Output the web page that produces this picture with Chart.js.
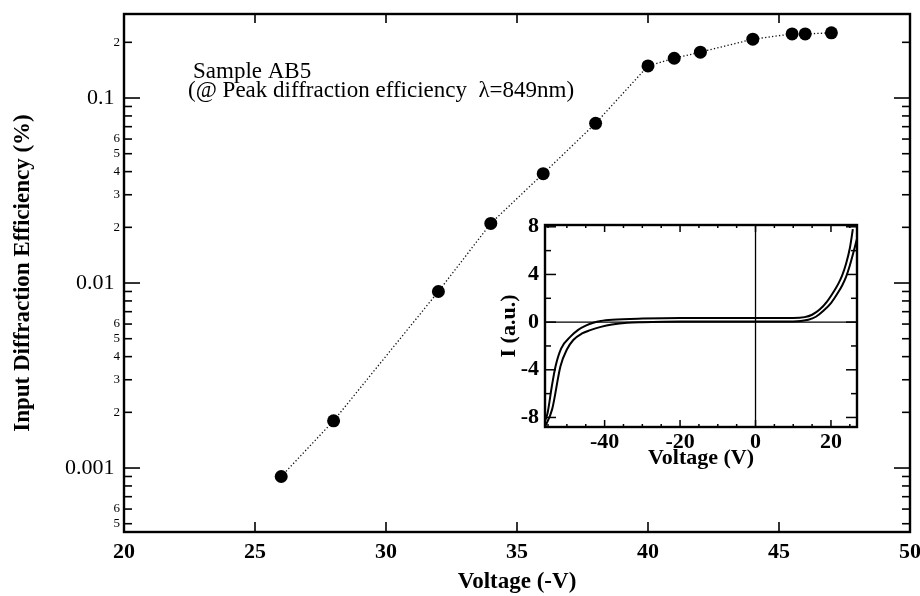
<!DOCTYPE html>
<html>
<head>
<meta charset="utf-8">
<title>Input diffraction efficiency vs voltage</title>
<script src="https://cdn.jsdelivr.net/npm/chart.js@4.4.1/dist/chart.umd.min.js"></script>
<style>
  html, body { margin: 0; padding: 0; background: #fff; }
  #wrap { position: relative; width: 920px; height: 596px; }
  #main { position: absolute; left: 0; top: 0; }
  #inset { position: absolute; left: 490px; top: 205px; }
</style>
</head>
<body>
<div id="wrap">
  <canvas id="main" width="920" height="596"></canvas>
  <canvas id="inset" width="380" height="268"></canvas>
</div>
<script>
// Main plot: input diffraction efficiency vs reverse voltage (log scale)
const effVoltage = [26, 28, 32, 34, 36, 38, 40, 41, 42, 44, 45.5, 46, 47];
const effValues = [0.0009, 0.0018, 0.009, 0.021, 0.039, 0.073, 0.149, 0.164, 0.177, 0.208, 0.222, 0.222, 0.225];
const voltageTicks = [20, 25, 30, 35, 40, 45, 50];
const effTicks = [
  0.0005, 0.0006, 0.0007, 0.0008, 0.0009,
  0.001, 0.002, 0.003, 0.004, 0.005, 0.006, 0.007, 0.008, 0.009,
  0.01, 0.02, 0.03, 0.04, 0.05, 0.06, 0.07, 0.08, 0.09,
  0.1, 0.2
];
const effTickLabels = [
  '5', '6', '', '', '',
  '0.001 ', '2', '3', '4', '5', '6', '', '', '',
  '0.01 ', '2', '3', '4', '5', '6', '', '', '',
  '0.1 ', '2'
];
const effMajor = [0.001, 0.01, 0.1];

// Inset: I-V sweep, two branches
const ivVoltageA = [-55.8, -55.1, -54, -53, -51.5, -49, -47, -45, -43, -41, -38, -30, -20, -10, 0, 10, 13, 15, 17, 19, 21, 22, 23, 24, 25, 25.8];
const ivCurrentA = [-8.3, -7.6, -5.4, -3.7, -2.2, -1.2, -0.65, -0.3, -0.05, 0.1, 0.2, 0.3, 0.35, 0.35, 0.35, 0.35, 0.42, 0.62, 1.05, 1.75, 2.7, 3.25, 3.95, 4.9, 6.2, 7.8];
const ivVoltageB = [-55.8, -53.9, -51.7, -50, -48.3, -46, -43.8, -41, -38, -34, -30, -20, -10, 0, 10, 14, 16, 18, 20, 22, 23, 24, 25, 26, 26.9];
const ivCurrentB = [-8.8, -7.3, -3.7, -2.3, -1.5, -0.95, -0.67, -0.4, -0.2, -0.05, 0.0, 0.05, 0.05, 0.05, 0.05, 0.2, 0.45, 0.95, 1.6, 2.55, 3.1, 3.8, 4.75, 5.9, 7.0];
const ivVoltageTicks = [-55, -50, -45, -40, -35, -30, -25, -20, -15, -10, -5, 0, 5, 10, 15, 20, 25];
const ivVoltageLabels = ['', '', '', '-40', '', '', '', '-20', '', '', '', '0', '', '', '', '20', ''];
const ivCurrentTicks = [-8, -6, -4, -2, 0, 2, 4, 6, 8];
const ivCurrentLabels = ['-8', '', '-4', '', '0', '', '4', '', '8'];

const sampleLabel = 'Sample AB5';
const conditionLabel = '(@ Peak diffraction efficiency  \u03bb=849nm)';

const SERIF = "'Liberation Serif', 'Times New Roman', Times, serif";
Chart.defaults.font.family = SERIF;
Chart.defaults.color = '#000';

function seg(ctx, x1, y1, x2, y2) {
  ctx.beginPath();
  ctx.moveTo(x1, y1);
  ctx.lineTo(x2, y2);
  ctx.stroke();
}

// inward ticks, box and text for the main plot
const mainFrame = {
  id: 'mainFrame',
  afterDraw(chart) {
    const { ctx, chartArea: a, scales: { x, y } } = chart;
    ctx.save();
    ctx.strokeStyle = '#000';
    ctx.lineWidth = 1.6;
    x.ticks.forEach(t => {
      const px = x.getPixelForValue(t.value);
      seg(ctx, px, a.bottom, px, a.bottom - 10);
      seg(ctx, px, a.top, px, a.top + 9);
    });
    y.ticks.forEach(t => {
      const py = y.getPixelForValue(t.value);
      const len = effMajor.includes(t.value) ? 16 : 8;
      seg(ctx, a.left, py, a.left + len, py);
      seg(ctx, a.right, py, a.right - len, py);
    });
    ctx.lineWidth = 2.4;
    ctx.strokeRect(a.left, a.top, a.right - a.left, a.bottom - a.top);

    ctx.fillStyle = '#000';
    ctx.font = '23px ' + SERIF;
    ctx.textAlign = 'left';
    ctx.textBaseline = 'alphabetic';
    ctx.fillText(sampleLabel, 193, 78);
    ctx.fillText(conditionLabel, 188, 97);
    ctx.restore();
  }
};

new Chart(document.getElementById('main'), {
  type: 'scatter',
  data: {
    datasets: [{
      data: effVoltage.map((v, i) => ({ x: v, y: effValues[i] })),
      showLine: true,
      borderColor: '#111',
      borderWidth: 1.3,
      borderDash: [1.3, 2.2],
      pointRadius: 6.5,
      pointBackgroundColor: '#000',
      pointBorderColor: '#000',
      pointBorderWidth: 0
    }]
  },
  options: {
    responsive: false,
    animation: false,
    events: [],
    layout: { padding: { top: 14, right: 10, left: 0, bottom: 0 } },
    plugins: { legend: { display: false }, tooltip: { enabled: false } },
    scales: {
      x: {
        type: 'linear',
        min: 20,
        max: 50,
        afterBuildTicks: s => { s.ticks = voltageTicks.map(v => ({ value: v })); },
        afterFit: s => { s.height = 64; s.paddingLeft = 0; s.paddingRight = 0; },
        grid: { display: false, drawTicks: false },
        border: { display: false },
        ticks: { padding: 7, maxRotation: 0, autoSkip: false, font: { size: 22, weight: 'bold' } },
        title: {
          display: true,
          text: 'Voltage (-V)',
          font: { size: 23, weight: 'bold' },
          padding: { top: 0, bottom: 0 }
        }
      },
      y: {
        type: 'logarithmic',
        min: 0.000451,
        max: 0.2845,
        afterBuildTicks: s => { s.ticks = effTicks.map(v => ({ value: v })); },
        afterFit: s => { s.width = 124; s.paddingTop = 0; s.paddingBottom = 0; },
        grid: { display: false, drawTicks: false },
        border: { display: false },
        ticks: {
          padding: 4,
          autoSkip: false,
          callback: (v, i) => effTickLabels[i],
          font: c => (c.tick && effMajor.includes(c.tick.value)) ? { size: 22 } : { size: 13 }
        },
        title: {
          display: true,
          text: 'Input Diffraction Efficiency (%)',
          font: { size: 23, weight: 'bold' },
          padding: { top: 9, bottom: 0 }
        }
      }
    }
  },
  plugins: [mainFrame]
});

// inset frame, zero lines and ticks
const insetFrame = {
  id: 'insetFrame',
  beforeDatasetsDraw(chart) {
    const { ctx, chartArea: a, scales: { x, y } } = chart;
    ctx.save();
    ctx.strokeStyle = '#000';
    ctx.lineWidth = 1.3;
    const y0 = y.getPixelForValue(0);
    const x0 = x.getPixelForValue(0);
    seg(ctx, a.left, y0, a.right, y0);
    seg(ctx, x0, a.top, x0, a.bottom);
    ctx.restore();
  },
  afterDraw(chart) {
    const { ctx, chartArea: a, scales: { x, y } } = chart;
    ctx.save();
    ctx.strokeStyle = '#000';
    ctx.lineWidth = 1.5;
    x.ticks.forEach((t, i) => {
      const px = x.getPixelForValue(t.value);
      const len = ivVoltageLabels[i] ? 7 : 3;
      seg(ctx, px, a.bottom, px, a.bottom - len);
      seg(ctx, px, a.top, px, a.top + len);
    });
    y.ticks.forEach((t, i) => {
      const py = y.getPixelForValue(t.value);
      const len = ivCurrentLabels[i] ? 11 : 6;
      seg(ctx, a.left, py, a.left + len, py);
      seg(ctx, a.right, py, a.right - len, py);
    });
    ctx.lineWidth = 2.4;
    ctx.strokeRect(a.left, a.top, a.right - a.left, a.bottom - a.top);
    ctx.restore();
  }
};

const ivLine = {
  showLine: true,
  borderColor: '#000',
  borderWidth: 2,
  pointRadius: 0,
  cubicInterpolationMode: 'monotone'
};

new Chart(document.getElementById('inset'), {
  type: 'scatter',
  data: {
    datasets: [
      Object.assign({ data: ivVoltageA.map((v, i) => ({ x: v, y: ivCurrentA[i] })) }, ivLine),
      Object.assign({ data: ivVoltageB.map((v, i) => ({ x: v, y: ivCurrentB[i] })) }, ivLine)
    ]
  },
  options: {
    responsive: false,
    animation: false,
    events: [],
    layout: { padding: { top: 20, right: 13, left: 0, bottom: 0 } },
    plugins: { legend: { display: false }, tooltip: { enabled: false } },
    scales: {
      x: {
        type: 'linear',
        min: -55.8,
        max: 26.9,
        afterBuildTicks: s => { s.ticks = ivVoltageTicks.map(v => ({ value: v })); },
        afterFit: s => { s.height = 46; s.paddingLeft = 0; s.paddingRight = 0; },
        grid: { display: false, drawTicks: false },
        border: { display: false },
        ticks: {
          padding: 2,
          maxRotation: 0,
          autoSkip: false,
          callback: (v, i) => ivVoltageLabels[i],
          font: { size: 22, weight: 'bold' }
        },
        title: {
          display: true,
          text: 'Voltage (V)',
          font: { size: 22, weight: 'bold' },
          padding: { top: 0, bottom: 1 }
        }
      },
      y: {
        type: 'linear',
        min: -8.8,
        max: 8.15,
        afterBuildTicks: s => { s.ticks = ivCurrentTicks.map(v => ({ value: v })); },
        afterFit: s => { s.width = 55; s.paddingTop = 0; s.paddingBottom = 0; },
        grid: { display: false, drawTicks: false },
        border: { display: false },
        ticks: {
          padding: 6,
          autoSkip: false,
          callback: (v, i) => ivCurrentLabels[i],
          font: { size: 22, weight: 'bold' }
        },
        title: {
          display: true,
          text: 'I (a.u.)',
          font: { size: 22, weight: 'bold' },
          padding: { top: 6, bottom: 0 }
        }
      }
    }
  },
  plugins: [insetFrame]
});
</script>
</body>
</html>
